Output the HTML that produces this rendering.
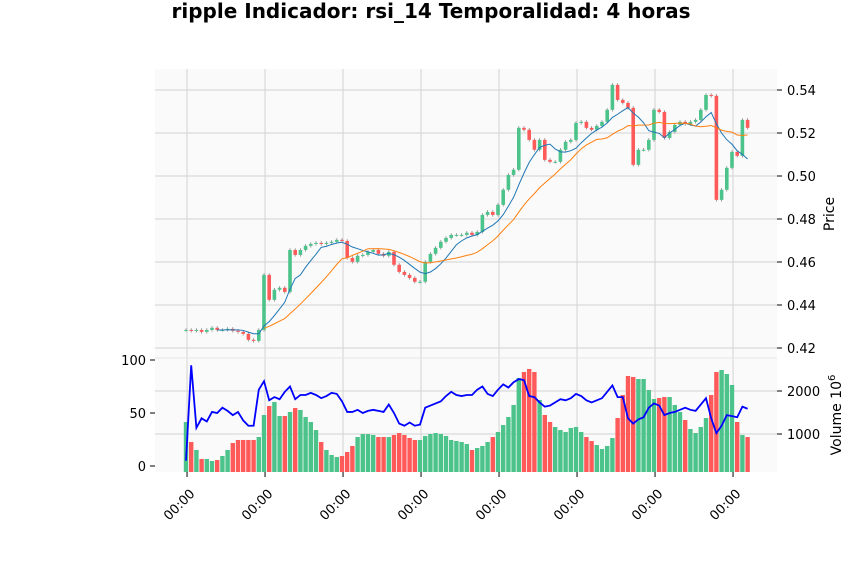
<!DOCTYPE html>
<html><head><meta charset="utf-8"><style>
body{margin:0;background:#fff;font-family:"Liberation Sans","DejaVu Sans",sans-serif;}
svg text{font-family:"DejaVu Sans","Liberation Sans",sans-serif;}
</style></head><body>
<svg id="chart" width="862" height="575" xmlns="http://www.w3.org/2000/svg">
<text x="431" y="18" text-anchor="middle" font-size="20" font-weight="bold">ripple Indicador: rsi_14 Temporalidad: 4 horas</text>
<rect x="155" y="69" width="622" height="289" fill="#fafafa"/>
<rect x="155" y="358" width="622" height="114" fill="#fafafa"/>
<g id="grid"></g><g id="marks"></g><g id="axes"></g>
<text transform="translate(834,214) rotate(-90)" text-anchor="middle" font-size="14">Price</text>
<text transform="translate(841,415) rotate(-90)" text-anchor="middle" font-size="14">Volume  10<tspan dy="-6" font-size="10">6</tspan></text>
</svg>
<script>
const closes=[0.4284,0.4280,0.4284,0.4275,0.4284,0.4294,0.4284,0.4284,0.4289,0.4280,0.4275,0.4266,0.4238,0.4233,0.4284,0.4540,0.4424,0.4471,0.4480,0.4461,0.4656,0.4633,0.4656,0.4675,0.4684,0.4689,0.4684,0.4689,0.4694,0.4703,0.4698,0.4619,0.4601,0.4629,0.4633,0.4647,0.4656,0.4638,0.4629,0.4647,0.4587,0.4554,0.4540,0.4526,0.4508,0.4508,0.4601,0.4638,0.4666,0.4694,0.4712,0.4726,0.4726,0.4726,0.4736,0.4726,0.4740,0.4819,0.4833,0.4819,0.4866,0.4936,0.5005,0.5029,0.5224,0.5215,0.5168,0.5122,0.5168,0.5075,0.5066,0.5066,0.5122,0.5159,0.5168,0.5247,0.5252,0.5224,0.5215,0.5233,0.5252,0.5308,0.5424,0.5354,0.5340,0.5317,0.5052,0.5122,0.5122,0.5168,0.5308,0.5298,0.5177,0.5205,0.5238,0.5252,0.5242,0.5252,0.5261,0.5308,0.5377,0.5373,0.4889,0.4936,0.5038,0.5112,0.5094,0.5261,0.5224];
const volumes=[1279,814,628,419,419,372,395,488,628,791,861,861,861,861,930,1442,1651,1744,1419,1419,1512,1605,1558,1396,1279,1093,814,628,512,465,488,582,721,930,1000,1000,977,930,930,930,977,1023,977,907,861,861,954,1000,1023,1000,954,861,837,814,767,628,674,721,814,930,1047,1209,1396,1675,2303,2442,2512,2442,1791,1442,1279,1163,1093,1047,1140,1163,1047,930,837,744,651,721,907,1372,1907,2349,2326,2279,2279,2023,1814,1837,1860,1860,1675,1512,1326,1116,1023,1163,1372,1907,2442,2488,2395,2140,1279,977,930];
const rsiValues=[5,95,36,45,42,51,50,55,52,48,51,43,38,38,72,80,62,65,63,70,75,63,67,67,69,67,64,66,69,68,61,51,51,53,50,52,53,52,51,58,50,40,38,41,38,39,55,57,59,61,66,70,67,66,67,67,72,75,68,66,72,77,74,79,82,81,66,65,60,56,57,60,63,62,64,68,66,62,60,62,64,70,76,65,65,45,40,44,46,55,59,57,48,50,51,53,55,53,52,58,64,45,31,38,48,47,46,56,54];
const priceTicks=[0.42,0.44,0.46,0.48,0.50,0.52,0.54];
const volTicks=[1000,2000];
const rsiTicks=[0,50,100];
const xTickLabels=["00:00","00:00","00:00","00:00","00:00","00:00","00:00","00:00"];
const xTickIdx=[0.2,15.2,30.2,45.2,60.2,75.2,90.2,105.2];
const maShort=7, maLong=16;

const NS="http://www.w3.org/2000/svg";
const X0=186,STEP=5.2;
const xs=i=>X0+STEP*i;
const yP=p=>90+(0.54-p)/0.02*43;
const yV=v=>477-v/1000*43;
const yR=r=>466-r*1.06;
function mk(tag,attrs,parent){const e=document.createElementNS(NS,tag);for(const k in attrs)e.setAttribute(k,attrs[k]);parent.appendChild(e);return e;}
const grid=document.getElementById('grid'),marks=document.getElementById('marks'),axes=document.getElementById('axes');
const G="#d3d3d3",GREEN="#4cc38a",RED="#ff5a5a";
xTickIdx.forEach((t,k)=>{const x=xs(t);
 let l=mk('line',{x1:x,x2:x,y1:69,y2:472,stroke:G,'stroke-width':1},grid);
 
 
 let tk=mk('line',{x1:x,x2:x,y1:472,y2:477,stroke:'#000'},axes);
 
 
 let tx=mk('text',{transform:`translate(${x+6},${492}) rotate(-45)`,'text-anchor':'end','font-size':13,'dominant-baseline':'middle'},axes);
 tx.textContent=xTickLabels[k];
 
 
});
priceTicks.forEach(p=>{const y=yP(p);
 let l=mk('line',{x1:155,x2:777,y1:y,y2:y,stroke:G},grid);
 
 
 mk('line',{x1:777,x2:782,y1:y,y2:y,stroke:'#000'},axes);
 let t=mk('text',{x:787,y:y+5,'font-size':13},axes);t.textContent=p.toFixed(2);
 
 
});
mk('line',{x1:155,x2:777,y1:358,y2:358,stroke:'#e6e6e6'},grid);
volTicks.forEach(v=>{const y=yV(v);
 let l=mk('line',{x1:155,x2:777,y1:y,y2:y,stroke:G},grid);
 
 
 mk('line',{x1:777,x2:782,y1:y,y2:y,stroke:'#000'},axes);
 let t=mk('text',{x:787,y:y+5,'font-size':13},axes);t.textContent=v;
 
 
});
rsiTicks.forEach(r=>{const y=yR(r);
 mk('line',{x1:150,x2:155,y1:y,y2:y,stroke:'#000'},axes);
 let t=mk('text',{x:146,y:y+5,'font-size':13,'text-anchor':'end'},axes);t.textContent=r;
 
 
});
closes.forEach((c,i)=>{
 const o=i?closes[i-1]:c;const up=c>=o;const col=up?GREEN:RED;const x=xs(i);
 const vt=yV(volumes[i]);
 let b=mk('rect',{x:x-2.2,y:vt,width:4.4,height:472-vt,fill:col},marks);
 
 
 const hi=Math.max(o,c)+0.0008,lo=Math.min(o,c)-0.0008;
 let w=mk('line',{x1:x,x2:x,y1:yP(hi),y2:yP(lo),stroke:'#888','stroke-width':0.8},marks);
 
 
 const top=yP(Math.max(o,c)),bot=yP(Math.min(o,c));
 let r=mk('rect',{x:x-1.8,y:top,width:3.6,height:Math.max(1,bot-top),fill:col},marks);
 
 
});
function sma(n){const pts=[];for(let i=n-1;i<closes.length;i++){let s=0;for(let j=i-n+1;j<=i;j++)s+=closes[j];pts.push(xs(i)+','+yP(s/n));}return pts.join(' ');}
let m1=mk('polyline',{points:sma(maShort),fill:'none',stroke:'#1f77b4','stroke-width':1},marks);


let m2=mk('polyline',{points:sma(maLong),fill:'none',stroke:'#ff7f0e','stroke-width':1},marks);


let rl=mk('polyline',{points:rsiValues.map((r,i)=>xs(i)+','+yR(r)).join(' '),fill:'none',stroke:'#0000ff','stroke-width':1.8},marks);


</script>
</body></html>
